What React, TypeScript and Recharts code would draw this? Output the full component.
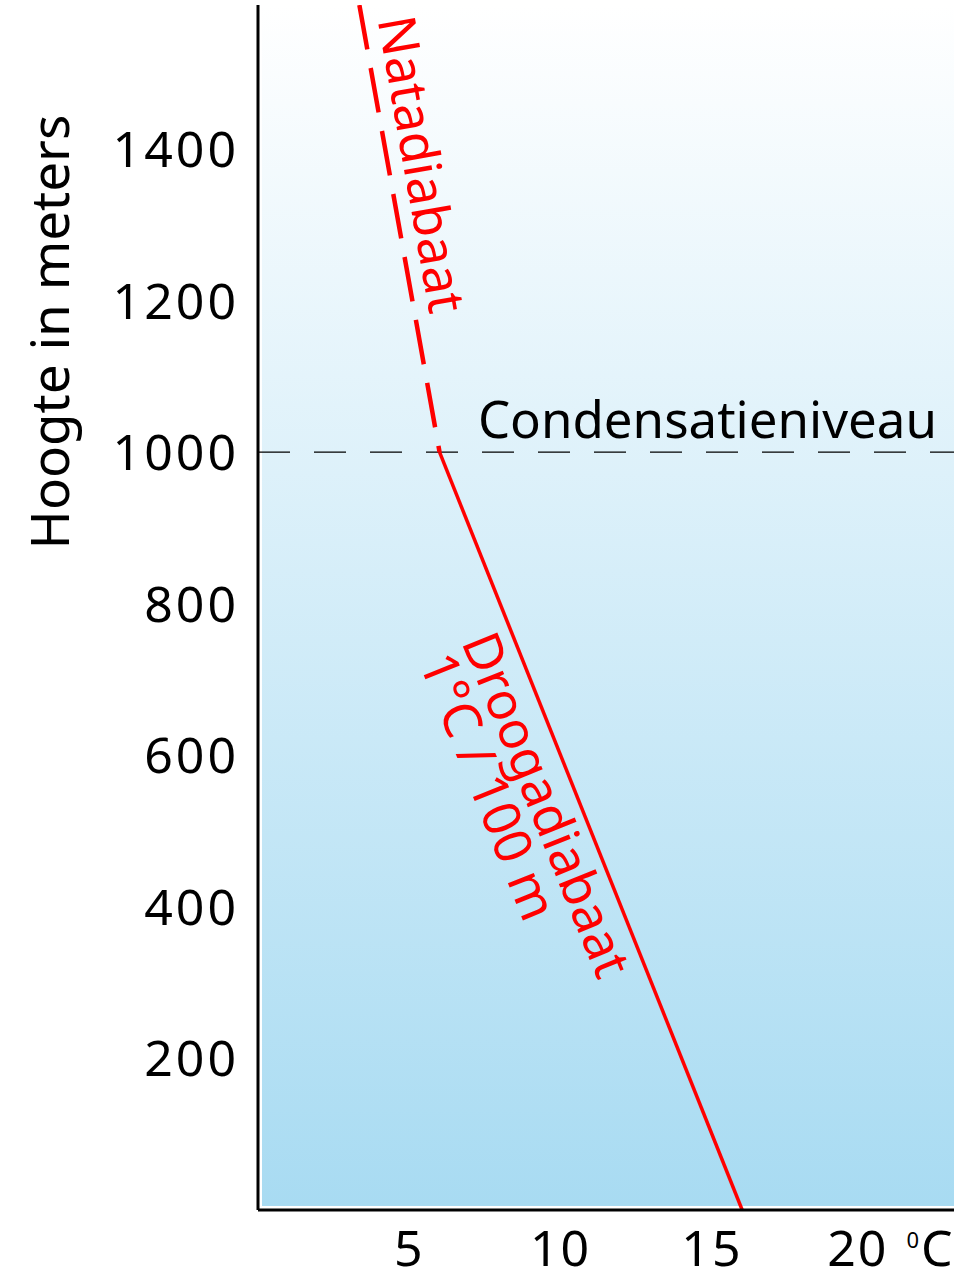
import {
  LineChart,
  Line,
  XAxis,
  YAxis,
  ReferenceArea,
  ReferenceLine,
  ReferenceDot,
} from 'recharts';

// temperatuur (°C) en hoogte (m)
const tempTicks = [5, 10, 15, 20];
const heightTicks = [200, 400, 600, 800, 1000, 1200, 1400];

const dryTemps = [16, 6];
const dryHeights = [0, 1000];

const wetTemps = [3.35, 6];
const wetHeights = [1590, 1000];

const condensationHeight = 1000;

const dryData = dryTemps.map((t, i) => ({ t, h: dryHeights[i] }));
const wetData = wetTemps.map((t, i) => ({ t, h: wetHeights[i] }));

const tickFont = "'Noto Sans', sans-serif";
const labelFont = "'Noto Sans', sans-serif";

function YTick(props: any) {
  const { x, y, payload } = props;
  return (
    <text
      x={x}
      y={y}
      dy='0.36em'
      textAnchor='end'
      fontSize={50}
      letterSpacing={3}
      fontFamily={tickFont}
      fill='#000'
    >
      {payload.value}
    </text>
  );
}

function XTick(props: any) {
  const { x, y, payload } = props;
  if (payload.value === 20) {
    return (
      <text x={x - 36} y={y} dy='0.72em' textAnchor='start' fontSize={50} letterSpacing={2} fontFamily={tickFont} fill='#000'>
        20
        <tspan dx={18} dy={-18} fontSize={22}>
          0
        </tspan>
        <tspan dx={0} dy={18}>
          C
        </tspan>
      </text>
    );
  }
  return (
    <text x={x} y={y} dy='0.72em' textAnchor='middle' fontSize={50} letterSpacing={2} fontFamily={tickFont} fill='#000'>
      {payload.value}
    </text>
  );
}

function rotatedLabel(text: string, angle: number) {
  return (props: any) => {
    const vb = props.viewBox;
    const cx = vb.x + vb.width / 2;
    const cy = vb.y + vb.height / 2;
    return (
      <text
        x={cx}
        y={cy}
        dy='0.36em'
        textAnchor='middle'
        transform={`rotate(${angle} ${cx} ${cy})`}
        fontSize={52}
        fontFamily={labelFont}
        fill='#ff0000'
      >
        {text}
      </text>
    );
  };
}

export default function App() {
  return (
    <div style={{ position: 'absolute', left: 0, top: 0, background: '#fff' }}>
      <LineChart width={954} height={1288} margin={{ top: 5, right: 0, left: 0, bottom: 0 }}>
        <defs>
          <linearGradient id='skyFill' x1='0' y1='0' x2='0' y2='1'>
            <stop offset='0%' stopColor='#ffffff' />
            <stop offset='100%' stopColor='#a8dbf2' />
          </linearGradient>
        </defs>
        <XAxis
          type='number'
          dataKey='t'
          domain={[0, 23]}
          ticks={tempTicks}
          allowDataOverflow
          height={78}
          axisLine={{ stroke: '#000', strokeWidth: 3 }}
          tickLine={false}
          tickSize={0}
          tickMargin={20}
          tick={<XTick />}
        />
        <YAxis
          type='number'
          domain={[0, 1590]}
          ticks={heightTicks}
          allowDataOverflow
          width={258}
          axisLine={{ stroke: '#000', strokeWidth: 3 }}
          tickLine={false}
          tickSize={0}
          tickMargin={19}
          tick={<YTick />}
          label={(props: any) => {
            const vb = props.viewBox;
            const cx = vb.x + 50;
            const cy = vb.y + 327;
            return (
              <text
                x={cx}
                y={cy}
                dy='0.36em'
                textAnchor='middle'
                transform={`rotate(-90 ${cx} ${cy})`}
                fontSize={53}
                fontFamily={labelFont}
                fill='#000'
              >
                Hoogte in meters
              </text>
            );
          }}
        />
        <ReferenceArea
          x1={0}
          x2={23}
          y1={0}
          y2={1590}
          ifOverflow='hidden'
          shape={(p: any) => (
            <rect x={p.x + 4} y={p.y} width={p.width - 4} height={p.height - 4} fill='url(#skyFill)' />
          )}
        />
        <ReferenceLine
          y={condensationHeight}
          stroke='#000'
          strokeWidth={1.2}
          strokeDasharray='32 24'
          label={(props: any) => {
            const vb = props.viewBox;
            return (
              <text
                x={vb.x + vb.width - 17}
                y={vb.y - 14}
                textAnchor='end'
                fontSize={51}
                fontFamily={tickFont}
                fill='#000'
              >
                Condensatieniveau
              </text>
            );
          }}
        />
        <Line
          data={dryData}
          dataKey='h'
          stroke='#ff0000'
          strokeWidth={3.5}
          dot={false}
          activeDot={false}
          isAnimationActive={false}
        />
        <Line
          data={wetData}
          dataKey='h'
          stroke='#ff0000'
          strokeWidth={4.5}
          strokeDasharray='45 19'
          dot={false}
          activeDot={false}
          isAnimationActive={false}
        />
        <ReferenceDot x={5.42} y={1380} r={1} fill='none' stroke='none' label={rotatedLabel('Natadiabaat', 80)} />
        <ReferenceDot x={9.55} y={535} r={1} fill='none' stroke='none' label={rotatedLabel('Droogadiabaat', 68)} />
        <ReferenceDot x={7.63} y={559} r={1} fill='none' stroke='none' label={rotatedLabel('1°C / 100 m', 68)} />
      </LineChart>
    </div>
  );
}
